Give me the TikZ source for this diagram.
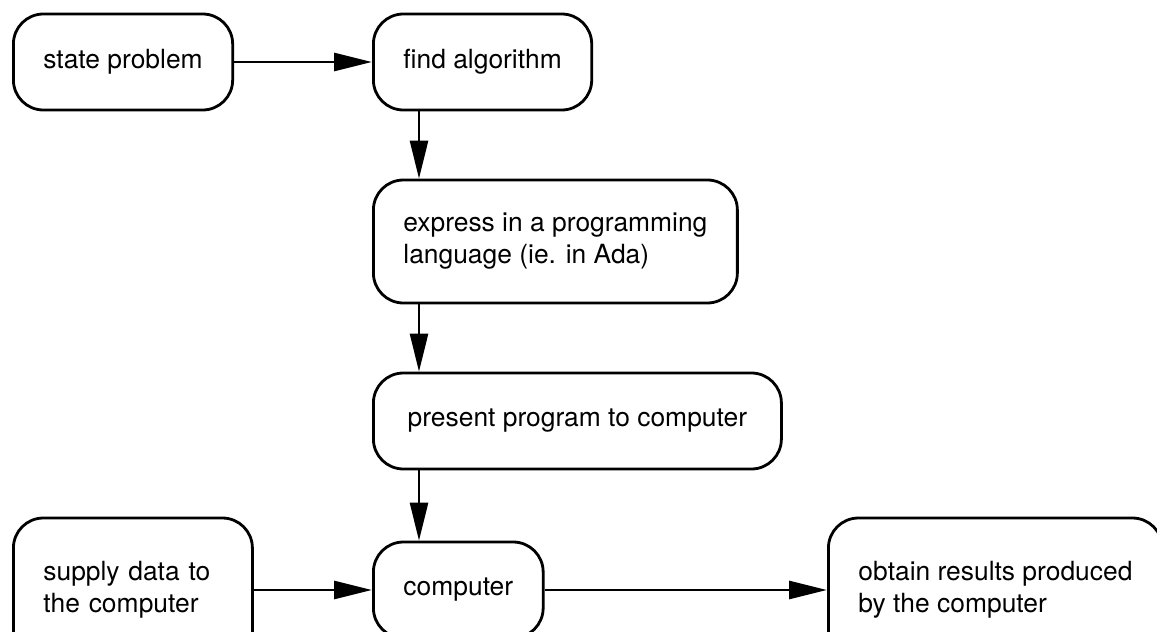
\documentclass[tikz,border=0pt]{standalone}
\usepackage{fontspec}
\setmainfont{TeX Gyre Heros}
\usetikzlibrary{arrows.meta}
\tikzset{
  box/.style={draw,line width=2.8pt,rounded corners=30pt,anchor=west,align=left,
    inner xsep=30pt,inner ysep=0pt,minimum height=96pt,font=\fontsize{26.4}{32}\selectfont},
  tbox/.style={box,minimum height=144pt},
  ar/.style={-{Triangle[length=38pt,width=18pt]},line width=2.8pt},
}
\begin{document}
\begin{tikzpicture}[x=1pt,y=-1pt]
  \path[use as bounding box,clip] (0,0) rectangle (1157,632);
  \node[box] (sp) at (12,62) {state problem};
  \node[box] (fa) at (372,62) {find algorithm};
  \node[box,minimum height=123pt] (ex) at (372,241.5) {express in a programming\\language (ie. in Ada)};
  \node[box,minimum width=408pt] (pp) at (372,421) {present program to computer};
  \node[tbox,text width=179pt] (sd) at (12,590) {supply data to\\the computer};
  \node[box] (co) at (372,590) {computer};
  \node[tbox] (ob) at (827,590) {obtain results produced\\by the computer};
  \coordinate (vx) at (419,0);
  \draw[ar] (sp) -- (fa);
  \draw[ar] (fa.south -| vx) -- (ex.north -| vx);
  \draw[ar] (ex.south -| vx) -- (pp.north -| vx);
  \draw[ar] (pp.south -| vx) -- (co.north -| vx);
  \draw[ar] (sd) -- (co);
  \draw[ar] (co) -- (ob);
\end{tikzpicture}
\end{document}
